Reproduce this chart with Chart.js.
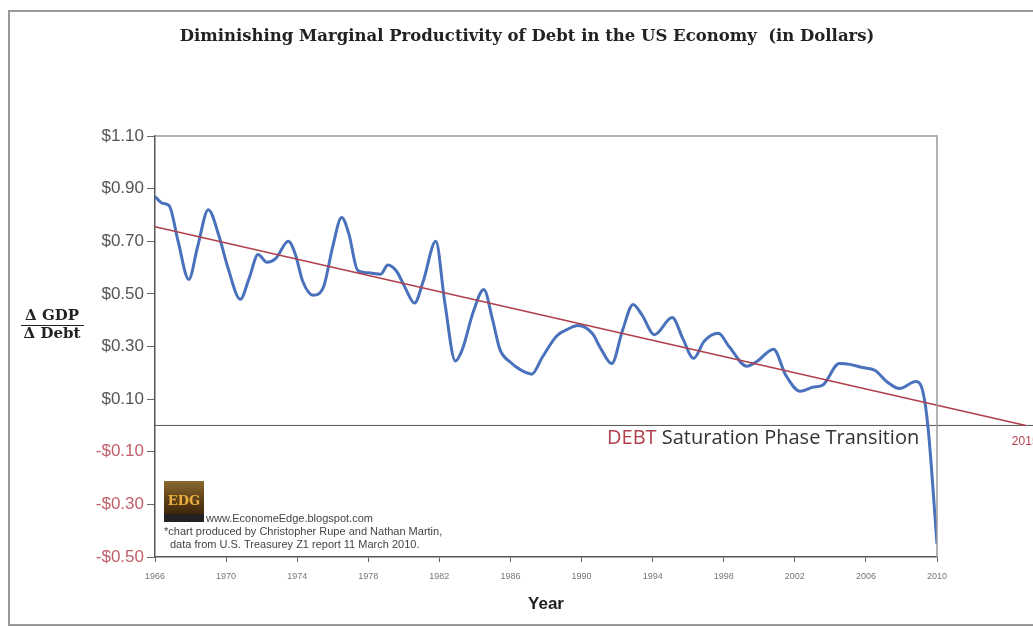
<!DOCTYPE html>
<html>
<head>
<meta charset="utf-8">
<title>Diminishing Marginal Productivity of Debt</title>
<script src="https://cdn.jsdelivr.net/npm/chart.js@4.4.1/dist/chart.umd.min.js"></script>
<style>
  html, body { margin: 0; padding: 0; background: #fff; }
</style>
</head>
<body>
<canvas id="debtChart" width="1033" height="627"></canvas>
<script>
// Change in GDP per change in debt
const years = [1966.0, 1966.4, 1966.8, 1967.3, 1967.9, 1968.4, 1969.0, 1969.6, 1970.1, 1970.8,
  1971.3, 1971.8, 1972.3, 1972.8, 1973.5, 1973.9, 1974.3, 1974.9, 1975.5, 1976.0,
  1976.5, 1976.9, 1977.4, 1978.0, 1978.7, 1979.1, 1979.6, 1980.1, 1980.6, 1981.1,
  1981.8, 1982.3, 1982.9, 1983.3, 1983.9, 1984.5, 1985.0, 1985.4, 1986.0, 1986.6,
  1987.2, 1987.8, 1988.6, 1989.2, 1989.8, 1990.6, 1991.1, 1991.7, 1992.3, 1992.9,
  1993.4, 1994.1, 1995.1, 1995.7, 1996.3, 1996.9, 1997.7, 1998.3, 1999.3, 1999.9,
  2000.8, 2001.5, 2002.3, 2003.0, 2003.6, 2004.5, 2005.1, 2005.8, 2006.5, 2007.2,
  2007.9, 2008.8, 2009.2, 2009.5, 2010.0];
const gdpPerDebt = [0.87, 0.845, 0.835, 0.70, 0.555, 0.68, 0.82, 0.72, 0.60, 0.48,
  0.56, 0.65, 0.62, 0.635, 0.70, 0.65, 0.55, 0.495, 0.53, 0.68,
  0.79, 0.73, 0.59, 0.58, 0.575, 0.61, 0.585, 0.52, 0.465, 0.55,
  0.70, 0.47, 0.245, 0.29, 0.43, 0.517, 0.40, 0.29, 0.24, 0.21,
  0.195, 0.26, 0.34, 0.365, 0.38, 0.35, 0.29, 0.235, 0.36, 0.46,
  0.42, 0.345, 0.41, 0.33, 0.255, 0.32, 0.35, 0.30, 0.225, 0.245,
  0.29, 0.19, 0.13, 0.145, 0.155, 0.235, 0.232, 0.22, 0.21, 0.165,
  0.14, 0.167, 0.13, -0.01, -0.45];

// straight trend line, hits zero around 2015
const trendYears = [1966, 2015];
const trendValues = [0.755, 0.0];

// zero line runs on past the plot to the right edge
const zeroYears = [1966, 2017];
const zeroValues = [0, 0];

const xTicks = [1966, 1970, 1974, 1978, 1982, 1986, 1990, 1994, 1998, 2002, 2006, 2010];
const yTicks = [-0.5, -0.3, -0.1, 0.1, 0.3, 0.5, 0.7, 0.9, 1.1];

function toPoints(xs, ys) {
    return xs.map((x, i) => ({ x: x, y: ys[i] }));
}

// frame, title, fraction label and notes
const decorations = {
    id: 'decorations',
    beforeDraw(chart) {
        const c = chart.ctx;
        c.save();
        c.fillStyle = '#fff';
        c.fillRect(0, 0, chart.width, chart.height);
        c.strokeStyle = '#999';
        c.lineWidth = 2;
        c.strokeRect(9, 11, 1040, 614);
        c.restore();
    },
    afterDatasetsDraw(chart) {
        const c = chart.ctx;
        const a = chart.chartArea;
        c.save();
        // plot box (top and right sides)
        c.strokeStyle = '#999';
        c.lineWidth = 1.5;
        c.beginPath();
        c.moveTo(a.left, a.top);
        c.lineTo(a.right, a.top);
        c.lineTo(a.right, a.bottom);
        c.stroke();

        // title
        c.fillStyle = '#222';
        c.font = 'bold 16.5px "DejaVu Serif"';
        c.textAlign = 'center';
        c.textBaseline = 'middle';
        c.fillText('Diminishing Marginal Productivity of Debt in the US Economy  (in Dollars)', 527, 37);

        // delta GDP over delta Debt
        c.font = 'bold 15px "DejaVu Serif"';
        c.fillText('\u0394 GDP', 52, 316);
        c.fillText('\u0394 Debt', 52, 334);
        c.strokeStyle = '#222';
        c.lineWidth = 1.2;
        c.beginPath();
        c.moveTo(21, 325.5);
        c.lineTo(84, 325.5);
        c.stroke();

        // saturation note under zero line
        const y0 = chart.scales.y.getPixelForValue(0);
        c.textAlign = 'left';
        c.textBaseline = 'alphabetic';
        c.font = '20px "Open Sans"';
        c.fillStyle = '#b0404c';
        c.fillText('DEBT', 607, y0 + 19);
        const w = c.measureText('DEBT ').width;
        c.fillStyle = '#333';
        c.fillText('Saturation Phase Transition', 607 + w, y0 + 19);

        // year where trend reaches zero
        c.font = '12px "Liberation Sans"';
        c.fillStyle = '#b0404c';
        c.fillText('2015', chart.scales.x.getPixelForValue(2015) - 14, y0 + 20);

        // logo and credits
        const g = c.createLinearGradient(0, 481, 0, 522);
        g.addColorStop(0, '#8a6a30');
        g.addColorStop(0.5, '#5a3c14');
        g.addColorStop(1, '#2a1a08');
        c.fillStyle = g;
        c.fillRect(164, 481, 40, 41);
        c.fillStyle = '#222';
        c.fillRect(164, 514, 40, 8);
        c.fillStyle = '#e8b040';
        c.font = 'bold 13px "DejaVu Serif"';
        c.textAlign = 'center';
        c.fillText('EDG', 184, 505);
        c.textAlign = 'left';
        c.fillStyle = '#444';
        c.font = '11px "Liberation Sans"';
        c.fillText('www.EconomeEdge.blogspot.com', 206, 522);
        c.fillText('*chart produced by Christopher Rupe and Nathan Martin,', 164, 535);
        c.fillText('data from U.S. Treasurey Z1 report 11 March 2010.', 170, 548);
        c.restore();
    }
};

function initDebtChart() {
    const ctx = document.getElementById('debtChart').getContext('2d');
    new Chart(ctx, {
        type: 'line',
        data: {
            datasets: [{
                label: 'Trend',
                data: toPoints(trendYears, trendValues),
                borderColor: '#b0404c',
                borderWidth: 1.6,
                pointRadius: 0,
                clip: false,
                order: 0
            }, {
                label: 'GDP per Debt',
                data: toPoints(years, gdpPerDebt),
                borderColor: '#4a72bc',
                borderWidth: 3,
                pointRadius: 0,
                cubicInterpolationMode: 'monotone',
                order: 1
            }, {
                label: 'Zero',
                data: toPoints(zeroYears, zeroValues),
                borderColor: '#555',
                borderWidth: 1,
                pointRadius: 0,
                clip: false,
                order: 2
            }]
        },
        options: {
            responsive: false,
            animation: false,
            layout: { padding: { left: 0, right: 96, top: 136, bottom: 0 } },
            plugins: {
                legend: { display: false },
                tooltip: { enabled: false }
            },
            scales: {
                x: {
                    type: 'linear',
                    min: 1966,
                    max: 2010,
                    afterBuildTicks: s => { s.ticks = xTicks.map(v => ({ value: v })); },
                    afterFit: s => { s.height = 70; },
                    ticks: {
                        autoSkip: false,
                        maxRotation: 0,
                        padding: 9,
                        color: '#777',
                        font: { family: 'Liberation Sans', size: 9 },
                        callback: v => String(v)
                    },
                    grid: { drawOnChartArea: false, tickLength: 5, color: '#666' },
                    border: { color: '#555', width: 1.5 },
                    title: {
                        display: true,
                        text: 'Year',
                        color: '#222',
                        font: { family: 'Liberation Sans', size: 17, weight: 'bold' },
                        padding: { top: 4, bottom: 12 }
                    }
                },
                y: {
                    min: -0.5,
                    max: 1.1,
                    afterBuildTicks: s => { s.ticks = yTicks.map(v => ({ value: v })); },
                    afterFit: s => { s.width = 155; },
                    ticks: {
                        padding: 3,
                        color: c => c.tick.value < 0 ? '#c0606a' : '#555',
                        font: { family: 'Liberation Sans', size: 17 },
                        callback: v => (v < 0 ? '-$' : '$') + Math.abs(v).toFixed(2)
                    },
                    grid: { drawOnChartArea: false, tickLength: 8, color: '#666' },
                    border: { color: '#555', width: 1.5 }
                }
            }
        },
        plugins: [decorations]
    });
}

document.addEventListener("DOMContentLoaded", function() {
    initDebtChart();
});
</script>
</body>
</html>
